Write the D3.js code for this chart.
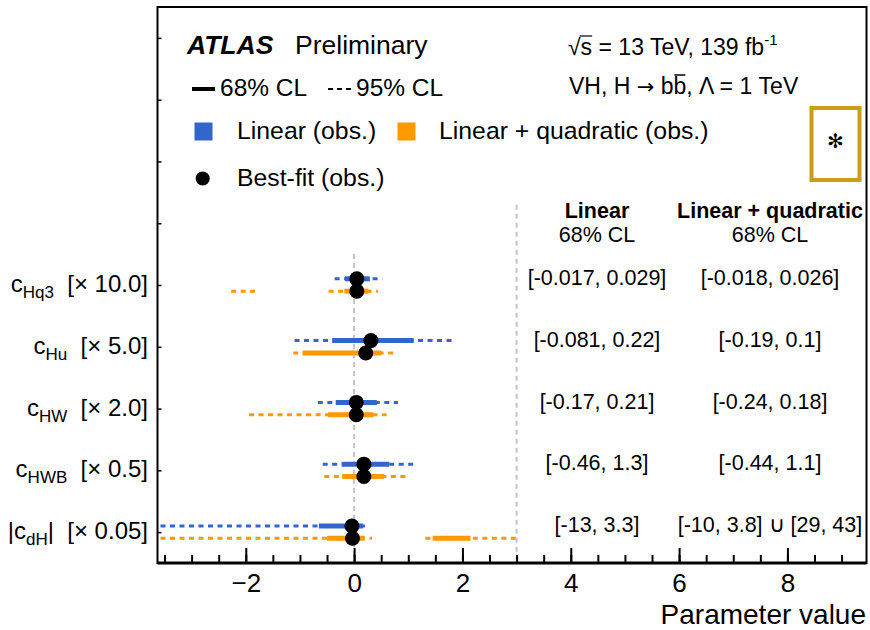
<!DOCTYPE html>
<html>
<head>
<meta charset="utf-8">
<script src="https://cdn.jsdelivr.net/npm/d3@7"></script>
<style>
  body { margin: 0; background: #fff; }
  svg { display: block; }
  text { font-family: "Liberation Sans", Arial, Helvetica, sans-serif; fill: #000; }
</style>
</head>
<body>
<svg id="chart" width="870" height="630"></svg>
<script>
// Wilson coefficients (subscripts) and the factor each interval is multiplied by for display
const coeffs = ["Hq3", "Hu", "HW", "HWB", "dH"];
const absValue = [false, false, false, false, true];
const factors = [10, 5, 2, 0.5, 0.05];
const factorLabels = ["10.0", "5.0", "2.0", "0.5", "0.05"];

// 68% CL intervals (coefficient units)
const linearCL68 = [[[-0.017, 0.029]], [[-0.081, 0.22]], [[-0.17, 0.21]], [[-0.46, 1.3]], [[-13, 3.3]]];
const quadCL68 = [[[-0.018, 0.026]], [[-0.19, 0.1]], [[-0.24, 0.18]], [[-0.44, 1.1]], [[-10, 3.8], [29, 43]]];

// 95% CL intervals (coefficient units)
const linearCL95 = [[[-0.036, 0.052]], [[-0.22, 0.366]], [[-0.335, 0.405]], [[-1.16, 2.22]], [[-75, 4.9]]];
const quadCL95 = [[[-0.227, -0.183], [-0.047, 0.044]], [[-0.225, 0.148]], [[-0.97, 0.3]], [[-1.1, 1.9]], [[-75, 6.6], [26.3, 60]]];

// best-fit values (coefficient units)
const linearBest = [0.005, 0.062, 0.02, 0.36, -0.8];
const quadBest = [0.005, 0.043, 0.02, 0.36, -0.6];

// axis ticks
const majorTicks = [-2, 0, 2, 4, 6, 8];
const minorTicks = d3.range(-3.5, 9.01, 0.5);
const rowTicks = [-4, -3, -2, -1, 0, 1, 2, 3, 4];

const BLUE = "#3366cc", ORANGE = "#ff9900", GOLD = "#cc9c14", GREY = "#c4c4c4";

const svg = d3.select("#chart");
const frame = { left: 157.5, right: 866.5, top: 7, bottom: 563 };

const x = d3.scaleLinear().domain([-3.63, 9.46]).range([frame.left, frame.right]);
const y = d3.scaleLinear().domain([-4.5, 4.5]).range([frame.top, frame.bottom]);
const rowShift = 0.1;

svg.append("clipPath").attr("id", "plotClip")
  .append("rect")
  .attr("x", frame.left).attr("y", frame.top)
  .attr("width", frame.right - frame.left).attr("height", frame.bottom - frame.top);

// reference lines at 0 and the separator in front of the interval table
const refs = [{ v: 0, from: -0.5 }, { v: 3, from: -1.3 }];
svg.append("g").selectAll("line").data(refs).join("line")
  .attr("x1", d => x(d.v)).attr("x2", d => x(d.v))
  .attr("y1", d => y(d.from)).attr("y2", frame.bottom)
  .attr("stroke", GREY).attr("stroke-width", 2).attr("stroke-dasharray", "5,4");

// interval rows
const series = [
  { cl68: linearCL68, cl95: linearCL95, best: linearBest, color: BLUE, shift: -rowShift },
  { cl68: quadCL68, cl95: quadCL95, best: quadBest, color: ORANGE, shift: rowShift }
];

const plot = svg.append("g").attr("clip-path", "url(#plotClip)");

function segments(key) {
  const out = [];
  series.forEach(s => s[key].forEach((ivs, i) => ivs.forEach(iv => out.push({
    lo: iv[0] * factors[i], hi: iv[1] * factors[i], row: i + s.shift, color: s.color
  }))));
  return out;
}

plot.append("g").selectAll("line").data(segments("cl95")).join("line")
  .attr("x1", d => x(d.lo)).attr("x2", d => x(d.hi))
  .attr("y1", d => y(d.row)).attr("y2", d => y(d.row))
  .attr("stroke", d => d.color).attr("stroke-width", 3).attr("stroke-dasharray", "5,4.5");

plot.append("g").selectAll("line").data(segments("cl68")).join("line")
  .attr("x1", d => x(d.lo)).attr("x2", d => x(d.hi))
  .attr("y1", d => y(d.row)).attr("y2", d => y(d.row))
  .attr("stroke", d => d.color).attr("stroke-width", 5);

const bestPts = [];
series.forEach(s => s.best.forEach((b, i) => bestPts.push({ v: b * factors[i], row: i + s.shift })));
plot.append("g").selectAll("circle").data(bestPts).join("circle")
  .attr("cx", d => x(d.v)).attr("cy", d => y(d.row)).attr("r", 7.5).attr("fill", "#000");

// x axis: minor and major ticks pointing into the frame
const axisG = svg.append("g").attr("transform", `translate(0,${frame.bottom})`);
axisG.append("g")
  .call(d3.axisBottom(x).tickValues(minorTicks).tickSize(-8).tickSizeOuter(0).tickFormat(""))
  .call(g => g.select(".domain").remove())
  .call(g => g.selectAll("line").attr("stroke", "#000").attr("stroke-width", 2));
axisG.append("g")
  .call(d3.axisBottom(x).tickValues(majorTicks).tickSize(-15).tickSizeOuter(0).tickPadding(10.5))
  .call(g => g.select(".domain").remove())
  .call(g => g.selectAll("line").attr("stroke", "#000").attr("stroke-width", 2))
  .call(g => g.selectAll("text").attr("font-size", 26).attr("font-family", '"Liberation Sans", Arial, sans-serif'));

// y axis ticks on the left frame edge
svg.append("g").attr("transform", `translate(${frame.left},0)`)
  .call(d3.axisLeft(y).tickValues(rowTicks).tickSize(-4).tickSizeOuter(0).tickFormat(""))
  .call(g => g.select(".domain").remove())
  .call(g => g.selectAll("line").attr("stroke", "#000").attr("stroke-width", 1.5));

// frame
svg.append("rect")
  .attr("x", frame.left).attr("y", frame.top)
  .attr("width", frame.right - frame.left).attr("height", frame.bottom - frame.top)
  .attr("fill", "none").attr("stroke", "#000").attr("stroke-width", 2);
svg.append("line").attr("x1", frame.left).attr("x2", frame.right)
  .attr("y1", frame.bottom).attr("y2", frame.bottom).attr("stroke", "#000").attr("stroke-width", 3);

// axis title
svg.append("text").attr("x", 866).attr("y", 623.5).attr("text-anchor", "end")
  .attr("font-size", 28).text("Parameter value");

// row labels
coeffs.forEach((c, i) => {
  const t = svg.append("text").attr("x", 148).attr("y", y(i) + 7)
    .attr("text-anchor", "end").attr("font-size", 24);
  t.append("tspan").text((absValue[i] ? "|" : "") + "c");
  t.append("tspan").attr("font-size", 17).attr("dy", 6).text(c);
  if (absValue[i]) {
    t.append("tspan").attr("dy", -6).text("|");
    t.append("tspan").text("\u00a0\u00a0[× " + factorLabels[i] + "]");
  } else {
    t.append("tspan").attr("dy", -6).text("\u00a0\u00a0[× " + factorLabels[i] + "]");
  }
});

// interval table
const fmt = ivs => ivs.map(iv => `[${iv[0]}, ${iv[1]}]`).join(" ∪ ");
const cols = [{ cx: 597, head: "Linear", data: linearCL68 }, { cx: 770, head: "Linear + quadratic", data: quadCL68 }];
cols.forEach(col => {
  svg.append("text").attr("x", col.cx).attr("y", 218).attr("text-anchor", "middle")
    .attr("font-size", 21.5).attr("font-weight", "bold").text(col.head);
  svg.append("text").attr("x", col.cx).attr("y", 242).attr("text-anchor", "middle")
    .attr("font-size", 21.5).text("68% CL");
  svg.append("g").selectAll("text").data(col.data).join("text")
    .attr("x", col.cx).attr("y", (d, i) => y(i)).attr("text-anchor", "middle")
    .attr("font-size", 21.5).text(d => fmt(d));
});

// header
const h1 = svg.append("text").attr("x", 187).attr("y", 53.5).attr("font-size", 26.5);
h1.append("tspan").attr("font-weight", "bold").attr("font-style", "italic").text("ATLAS");
h1.append("tspan").attr("x", 295).text("Preliminary");

const h2 = svg.append("text").attr("x", 568).attr("y", 55).attr("font-size", 23);
h2.append("tspan").text("√s = 13 TeV, 139 fb");
h2.append("tspan").attr("font-size", 15).attr("dy", -10).text("-1");
{
  const n = h2.node();
  const r = n.getExtentOfChar(0), s = n.getExtentOfChar(1);
  svg.append("line").attr("x1", r.x + r.width - 1).attr("x2", s.x + s.width)
    .attr("y1", r.y + 2).attr("y2", r.y + 2).attr("stroke", "#000").attr("stroke-width", 1.2);
}

const h3 = svg.append("text").attr("x", 569).attr("y", 94).attr("font-size", 23);
h3.append("tspan").text("VH, H ");
h3.append("tspan").attr("font-family", '"DejaVu Sans", sans-serif').attr("font-size", 21).text("→");
h3.append("tspan").text(" bb, Λ = 1 TeV");
{
  const e = h3.node().getExtentOfChar(9);
  svg.append("line").attr("x1", e.x + 1).attr("x2", e.x + e.width - 1)
    .attr("y1", 94 - 19).attr("y2", 94 - 19).attr("stroke", "#000").attr("stroke-width", 1.5);
}

// CL style legend
svg.append("line").attr("x1", 192).attr("x2", 215).attr("y1", 89).attr("y2", 89)
  .attr("stroke", "#000").attr("stroke-width", 4);
svg.append("text").attr("x", 220).attr("y", 96).attr("font-size", 24.5).text("68% CL");
svg.append("line").attr("x1", 328).attr("x2", 355).attr("y1", 89).attr("y2", 89)
  .attr("stroke", "#000").attr("stroke-width", 2).attr("stroke-dasharray", "5,4");
svg.append("text").attr("x", 356).attr("y", 96).attr("font-size", 24.5).text("95% CL");

// series legend
const legendItems = [
  { color: BLUE, sx: 194.5, tx: 237, label: "Linear (obs.)" },
  { color: ORANGE, sx: 397.5, tx: 439, label: "Linear + quadratic (obs.)" }
];
legendItems.forEach(d => {
  svg.append("rect").attr("x", d.sx).attr("y", 122.5).attr("width", 18).attr("height", 18).attr("fill", d.color);
  svg.append("text").attr("x", d.tx).attr("y", 139).attr("font-size", 24.8).text(d.label);
});
svg.append("circle").attr("cx", 202.7).attr("cy", 178.5).attr("r", 7).attr("fill", "#000");
svg.append("text").attr("x", 237).attr("y", 186).attr("font-size", 24.8).text("Best-fit (obs.)");

// marker box
svg.append("rect").attr("x", 811.5).attr("y", 108).attr("width", 48).attr("height", 72)
  .attr("fill", "none").attr("stroke", GOLD).attr("stroke-width", 4);
svg.append("text").attr("x", 835.5).attr("y", 141).attr("text-anchor", "middle")
  .attr("dominant-baseline", "central").attr("font-size", 20)
  .attr("font-family", '"DejaVu Sans", sans-serif').text("✻");
</script>
</body>
</html>
